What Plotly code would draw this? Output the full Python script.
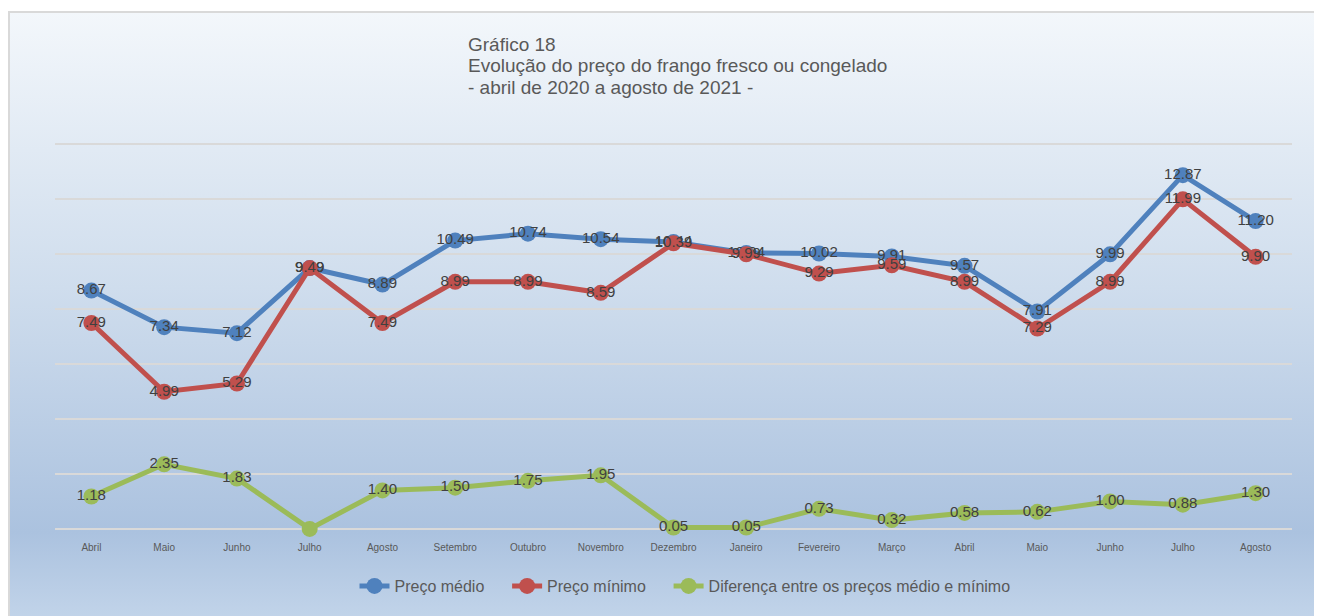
import base64
import plotly.graph_objects as go

months = ["Abril", "Maio", "Junho", "Julho", "Agosto", "Setembro", "Outubro",
          "Novembro", "Dezembro", "Janeiro", "Fevereiro", "Março", "Abril",
          "Maio", "Junho", "Julho", "Agosto"]
preco_medio = [8.67, 7.34, 7.12, 9.49, 8.89, 10.49, 10.74, 10.54, 10.44, 10.04,
               10.02, 9.91, 9.57, 7.91, 9.99, 12.87, 11.20]
preco_minimo = [7.49, 4.99, 5.29, 9.49, 7.49, 8.99, 8.99, 8.59, 10.39, 9.99,
                9.29, 9.59, 8.99, 7.29, 8.99, 11.99, 9.90]
diferenca = [1.18, 2.35, 1.83, 0.00, 1.40, 1.50, 1.75, 1.95, 0.05, 0.05,
             0.73, 0.32, 0.58, 0.62, 1.00, 0.88, 1.30]
title_lines = ["Gráfico 18",
               "Evolução do preço do frango fresco ou congelado",
               "- abril de 2020 a agosto de 2021 -"]

W, H = 1322, 616
YMIN, YMAX = -0.04, 14.04
ML, MR, MT, MB = 47, 38, 135, 94
PW, PH = W - ML - MR, H - MT - MB


def px(x):
    return (x - ML) / PW


def py(y):
    return (H - MB - y) / PH


xs = list(range(len(months)))


def labels(vals, hide_zero=False):
    return ["" if (hide_zero and v == 0) else f"{v:.2f}" for v in vals]


PAD = "\u00a0" * 4
fig = go.Figure()
series = [
    ("Preço médio", preco_medio, "#4f81bd", False, PAD),
    ("Preço mínimo", preco_minimo, "#c0504d", False, PAD),
    ("Diferença entre os preços médio e mínimo", diferenca, "#9bbb59", True, ""),
]
for name, vals, color, hz, pad in series:
    fig.add_trace(go.Scatter(
        x=xs, y=vals, name=name + pad, mode="lines+markers+text",
        line=dict(color=color, width=5),
        marker=dict(color=color, size=16),
        text=labels(vals, hz), textposition="middle center",
        textfont=dict(family="Liberation Sans, Arial", size=15, color="#404040"),
        cliponaxis=False,
    ))

svg = (
    '<svg xmlns="http://www.w3.org/2000/svg" width="100" height="100" preserveAspectRatio="none">'
    '<defs><linearGradient id="g" x1="0" y1="0" x2="0" y2="1">'
    '<stop offset="0" stop-color="#f3f7fb"/>'
    '<stop offset="0.45" stop-color="#cfdded"/>'
    '<stop offset="0.85" stop-color="#abc2df"/>'
    '<stop offset="1" stop-color="#c3d5ea"/>'
    '</linearGradient></defs>'
    '<rect width="100" height="100" fill="url(#g)"/></svg>'
)
src = "data:image/svg+xml;base64," + base64.b64encode(svg.encode()).decode()

fig.add_layout_image(dict(
    source=src, xref="paper", yref="paper",
    x=px(0), y=py(4), sizex=px(W) - px(0), sizey=py(4) - py(H),
    xanchor="left", yanchor="top", sizing="stretch", layer="below",
))

fig.add_shape(type="line", xref="paper", yref="paper",
              x0=px(0), x1=px(W), y0=py(4), y1=py(4),
              line=dict(color="#d9d9d9", width=2))
fig.add_shape(type="line", xref="paper", yref="paper",
              x0=px(1), x1=px(1), y0=py(4), y1=py(H),
              line=dict(color="#d9d9d9", width=2))

for i, line in enumerate(title_lines):
    fig.add_annotation(
        xref="paper", yref="paper", x=px(458), y=py(36 + 22 * i),
        xanchor="left", yanchor="middle", align="left", showarrow=False,
        text=line,
        font=dict(family="Liberation Sans, Arial", size=19, color="#595959"),
    )

fig.update_layout(
    width=W, height=H,
    margin=dict(l=ML, r=MR, t=MT, b=MB),
    paper_bgcolor="white", plot_bgcolor="rgba(0,0,0,0)",
    showlegend=True,
    legend=dict(orientation="h", x=px(677), xanchor="center", y=py(578), yanchor="middle",
                font=dict(family="Liberation Sans, Arial", size=16, color="#595959"),
                bgcolor="rgba(0,0,0,0)", itemwidth=30),
    font=dict(family="Liberation Sans, Arial"),
)
fig.update_xaxes(
    range=[-0.5, len(months) - 0.5], tickmode="array", tickvals=xs, ticktext=months,
    showgrid=False, zeroline=False, showline=False,
    tickfont=dict(size=10, color="#595959"), ticks="", ticklabelstandoff=10,
)
fig.update_yaxes(
    range=[YMIN, YMAX], tick0=0, dtick=2, showticklabels=False, showgrid=True,
    gridcolor="#d9d9d9", gridwidth=1.5, zeroline=False, showline=False,
)

fig.write_html("out.html")
